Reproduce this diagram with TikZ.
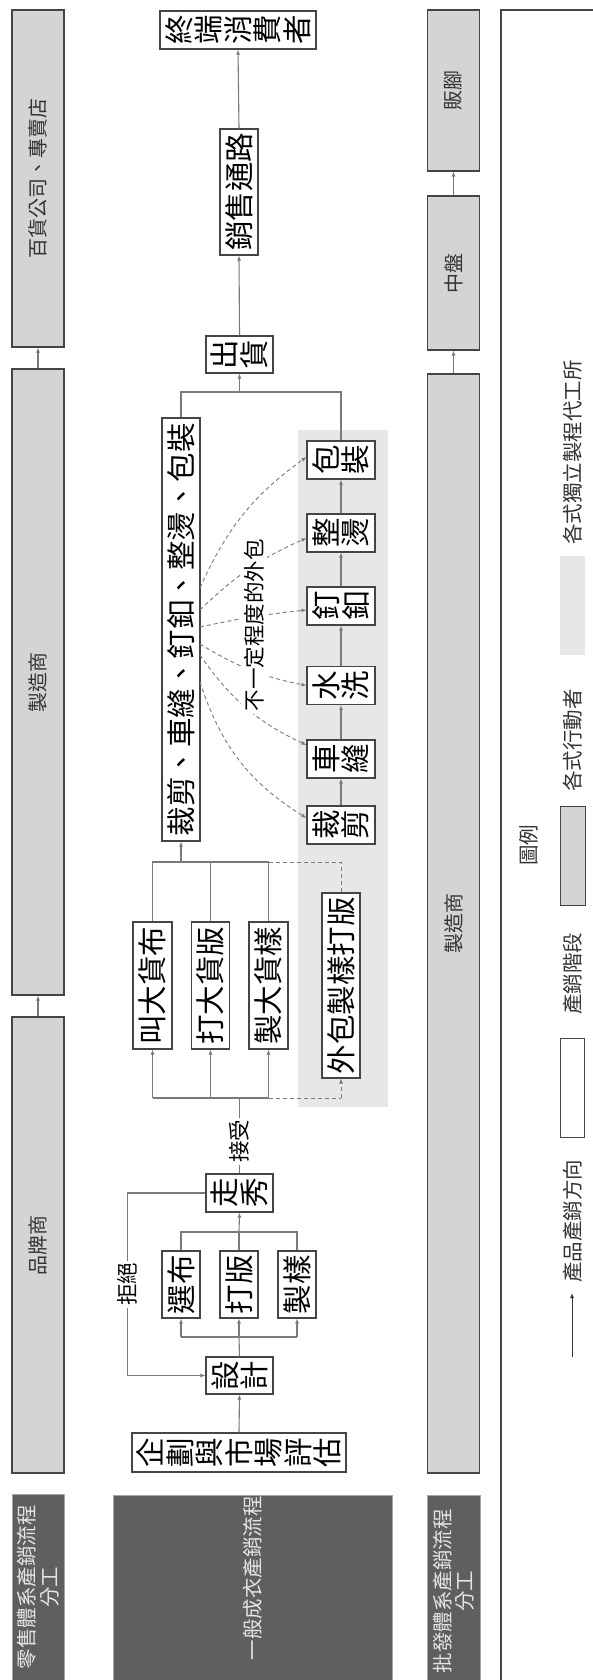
\documentclass[tikz,border=0pt]{standalone}
\usepackage{fontspec}
\newfontfamily\cjk{Noto Sans CJK TC}
\usetikzlibrary{arrows.meta,calc}
\definecolor{gfill}{HTML}{D4D4D4}
\definecolor{dfill}{HTML}{5F5F5F}
\definecolor{lfill}{HTML}{E7E7E7}
\definecolor{bordc}{HTML}{454545}
\definecolor{linec}{HTML}{7A7A7A}
\definecolor{tgray}{HTML}{333333}
\definecolor{tlight}{HTML}{E4E4E4}
\begin{document}
\begin{tikzpicture}[x=1pt,y=-1pt,
  wbox/.style={draw=bordc, line width=1.1pt, fill=white, inner sep=0pt, rotate=90, align=center, font=\cjk\fontsize{29.5}{29.5}\selectfont},
  gbox/.style={draw=bordc, line width=1.1pt, fill=gfill, inner sep=0pt, rotate=90, text=tgray, font=\cjk\fontsize{20}{22}\selectfont, minimum height=52pt},
  dtext/.style={rotate=90, text=tlight, align=center, inner sep=0pt, font=\cjk\fontsize{20.5}{22.5}\selectfont},
  lab/.style={fill=white, rotate=90, inner sep=2pt, font=\cjk\fontsize{21.5}{22}\selectfont},
  ltext/.style={rotate=90, inner sep=0pt, text=tgray, font=\cjk\fontsize{20.5}{22}\selectfont},
  ln/.style={draw=linec, line width=1.1pt},
  arr/.style={ln, -{Latex[length=5pt,width=4pt]}},
  dsh/.style={ln, line width=0.9pt, dash pattern=on 4pt off 3pt},
  darr/.style={dsh, -{Latex[length=5pt,width=4pt]}},
]
\useasboundingbox (0,0) rectangle (592,1680);
\fill[white] (0,0) rectangle (592,1680);

% ---------- left column: retail ----------
\node[gbox, minimum width=337pt] (g1) at (38,178.5) {百貨公司、專賣店};
\node[gbox, minimum width=626pt] (g2) at (38,682) {製造商};
\node[gbox, minimum width=456pt] (g3) at (38,1245) {品牌商};
\draw[arr] (g2.east) -- (g1.west);
\draw[arr] (g3.east) -- (g2.west);
\filldraw[fill=dfill, draw=gray!70, line width=1pt] (12,1494) rectangle (64,1700);
\node[dtext] (d1) at (38,1587) {零售體系產銷流程\\分工};

% ---------- right column: wholesale ----------
\node[gbox, minimum width=161pt] (r1) at (453.5,90.5) {販腳};
\node[gbox, minimum width=154pt] (r2) at (453.5,273) {中盤};
\node[gbox, minimum width=1099pt] (r3) at (453.5,923.5) {製造商};
\draw[arr] (r2.east) -- (r1.west);
\draw[arr] (r3.east) -- (r2.west);
\filldraw[fill=dfill, draw=gray!70, line width=1pt] (427,1495) rectangle (480,1700);
\node[dtext] (d3) at (453.5,1591) {批發體系產銷流程\\分工};

% ---------- middle ----------
\filldraw[fill=dfill, draw=gray!70, line width=1pt] (113,1495) rectangle (392,1700);
\node[dtext] (d2) at (252.5,1578) {一般成衣產銷流程};

\fill[lfill] (298,430) rectangle (388,1107);

\node[wbox, minimum width=39pt, minimum height=214pt] (qh) at (239,1452.5) {企\\劃\\與\\市\\場\\評\\估};
\node[wbox, minimum width=37pt, minimum height=67pt] (sj) at (239.5,1375.5) {設\\計};
\node[wbox, minimum width=67pt, minimum height=38pt] (xb) at (181,1284.5) {選布};
\node[wbox, minimum width=67pt, minimum height=38pt] (db) at (239,1284.5) {打版};
\node[wbox, minimum width=67pt, minimum height=38pt] (zy) at (297,1284.5) {製樣};
\node[wbox, minimum width=38pt, minimum height=67pt] (zx) at (239.5,1193) {走\\秀};
\node[wbox, minimum width=127pt, minimum height=39pt] (c1) at (152.5,985.5) {叫大貨布};
\node[wbox, minimum width=127pt, minimum height=38pt] (c2) at (210.5,985.5) {打大貨版};
\node[wbox, minimum width=127pt, minimum height=39pt] (c3) at (268.5,985.5) {製大貨樣};
\node[wbox, minimum width=185pt, minimum height=38pt] (wb) at (341,985.5) {外包製樣打版};
\node[wbox, minimum width=423pt, minimum height=38pt] (bb) at (181,629.5) {裁剪、車縫、釘釦、整燙、包裝};
\node[wbox, minimum width=38pt, minimum height=68pt] (l1) at (341,825) {裁\\剪};
\node[wbox, minimum width=38pt, minimum height=68pt] (l2) at (341,759) {車\\縫};
\node[wbox, minimum width=38pt, minimum height=68pt] (l3) at (341,685.5) {水\\洗};
\node[wbox, minimum width=38pt, minimum height=68pt] (l4) at (341,606) {釘\\釦};
\node[wbox, minimum width=38pt, minimum height=68pt] (l5) at (341,533) {整\\燙};
\node[wbox, minimum width=38pt, minimum height=68pt] (l6) at (341,460) {包\\裝};
\node[wbox, minimum width=37pt, minimum height=67pt] (ch) at (239.5,354.5) {出\\貨};
\node[wbox, minimum width=126pt, minimum height=38pt] (xs) at (239,192) {銷售通路};
\node[wbox, minimum width=38pt, minimum height=156pt] (zd) at (238,30) {終\\端\\消\\費\\者};

\coordinate (barA) at (239,1337);
\coordinate (barB) at (239,1232);
\coordinate (barC) at (239.5,1098);
\coordinate (barD) at (181,862);
\coordinate (barE) at (239.5,392);

\draw[arr] (qh.east) -- (sj.west);
\draw[ln] (sj.east) -- (barA);
\draw[ln] (xb.west |- barA) -- (zy.west |- barA);
\foreach \n in {xb,db,zy} \draw[arr] (\n.west |- barA) -- (\n.west);
\draw[ln] (xb.east) -- (xb.east |- barB) -- (zy.east |- barB) -- (zy.east);
\draw[ln] (db.east) -- (db.east |- barB);
\draw[arr] (barB) -- (zx.west);
\draw[arr] (zx.north) -- ++(-78,0) |- (sj.north) node[lab, pos=0.25] {拒絕};
\draw[ln] (zx.east) -- (barC) node[lab, pos=0.43] {接受};
\draw[ln] (c1.west |- barC) -- (c3.west |- barC);
\draw[dsh] (c3.west |- barC) -- (wb.west |- barC);
\foreach \n in {c1,c2,c3} \draw[arr] (\n.west |- barC) -- (\n.west);
\draw[darr] (wb.west |- barC) -- (wb.west);
\draw[ln] (c1.east) -- (c1.east |- barD) -- (c3.east |- barD) -- (c3.east);
\draw[ln] (c2.east) -- (c2.east |- barD);
\draw[dsh] (c3.east |- barD) -- (wb.east |- barD) -- (wb.east);
\draw[arr] (barD) -- (bb.west);
\draw[ln] (bb.east) -- (bb.east |- barE) -- (l6.east |- barE) -- (l6.east);
\draw[arr] (barE) -- (ch.west);
\draw[arr] (ch.east) -- (xs.west);
\draw[arr] (xs.east) -- (zd.west);
\draw[arr] (l1.east) -- (l2.west);
\draw[arr] (l2.east) -- (l3.west);
\draw[arr] (l3.east) -- (l4.west);
\draw[arr] (l4.east) -- (l5.west);
\draw[arr] (l5.east) -- (l6.west);

\coordinate (s6) at (200,588);
\coordinate (s5) at (200,610);
\coordinate (s4) at (200,627);
\coordinate (s3) at (200,644);
\coordinate (s2) at (200,655);
\coordinate (s1) at (200,682);
\draw[darr] (s6) to[bend left=15] ($(l6.north)+(0,-3)$);
\draw[darr] (s5) to[bend left=10] ($(l5.north)+(0,5)$);
\draw[darr] (s4) to[bend left=3] ($(l4.north)+(0,4)$);
\draw[darr] (s3) to[bend right=10] (l3.north);
\draw[darr] (s2) to[bend right=15] ($(l2.north)+(0,-14)$);
\draw[darr] (s1) to[bend right=20] ($(l1.north)+(0,-7)$);
\node[lab, inner sep=3pt] (wl) at (254,625) {不一定程度的外包};

% ---------- legend ----------
\draw[bordc, line width=1.1pt] (501,1700) -- (501,10) -- (620,10);
\node[ltext] (tl) at (529,845) {圖例};
\coordinate (la) at (572,1357);
\coordinate (lb) at (572,1293);
\draw[draw=tgray, line width=1pt, -{Latex[length=5pt,width=4pt]}] (la) -- (lb);
\node[ltext, anchor=west] (t1) at (573,1283) {產品產銷方向};
\draw[bordc, line width=1pt, fill=white] (560,1038) rectangle (584,1137);
\node[ltext, anchor=west] (t2) at (573,1015) {產銷階段};
\draw[bordc, line width=1pt, fill=gfill] (560,806) rectangle (585,905);
\node[ltext, anchor=west] (t3) at (573,792) {各式行動者};
\fill[lfill] (560,556) rectangle (585,655);
\node[ltext, anchor=west] (t4) at (573,545) {各式獨立製程代工所};
\end{tikzpicture}
\end{document}
